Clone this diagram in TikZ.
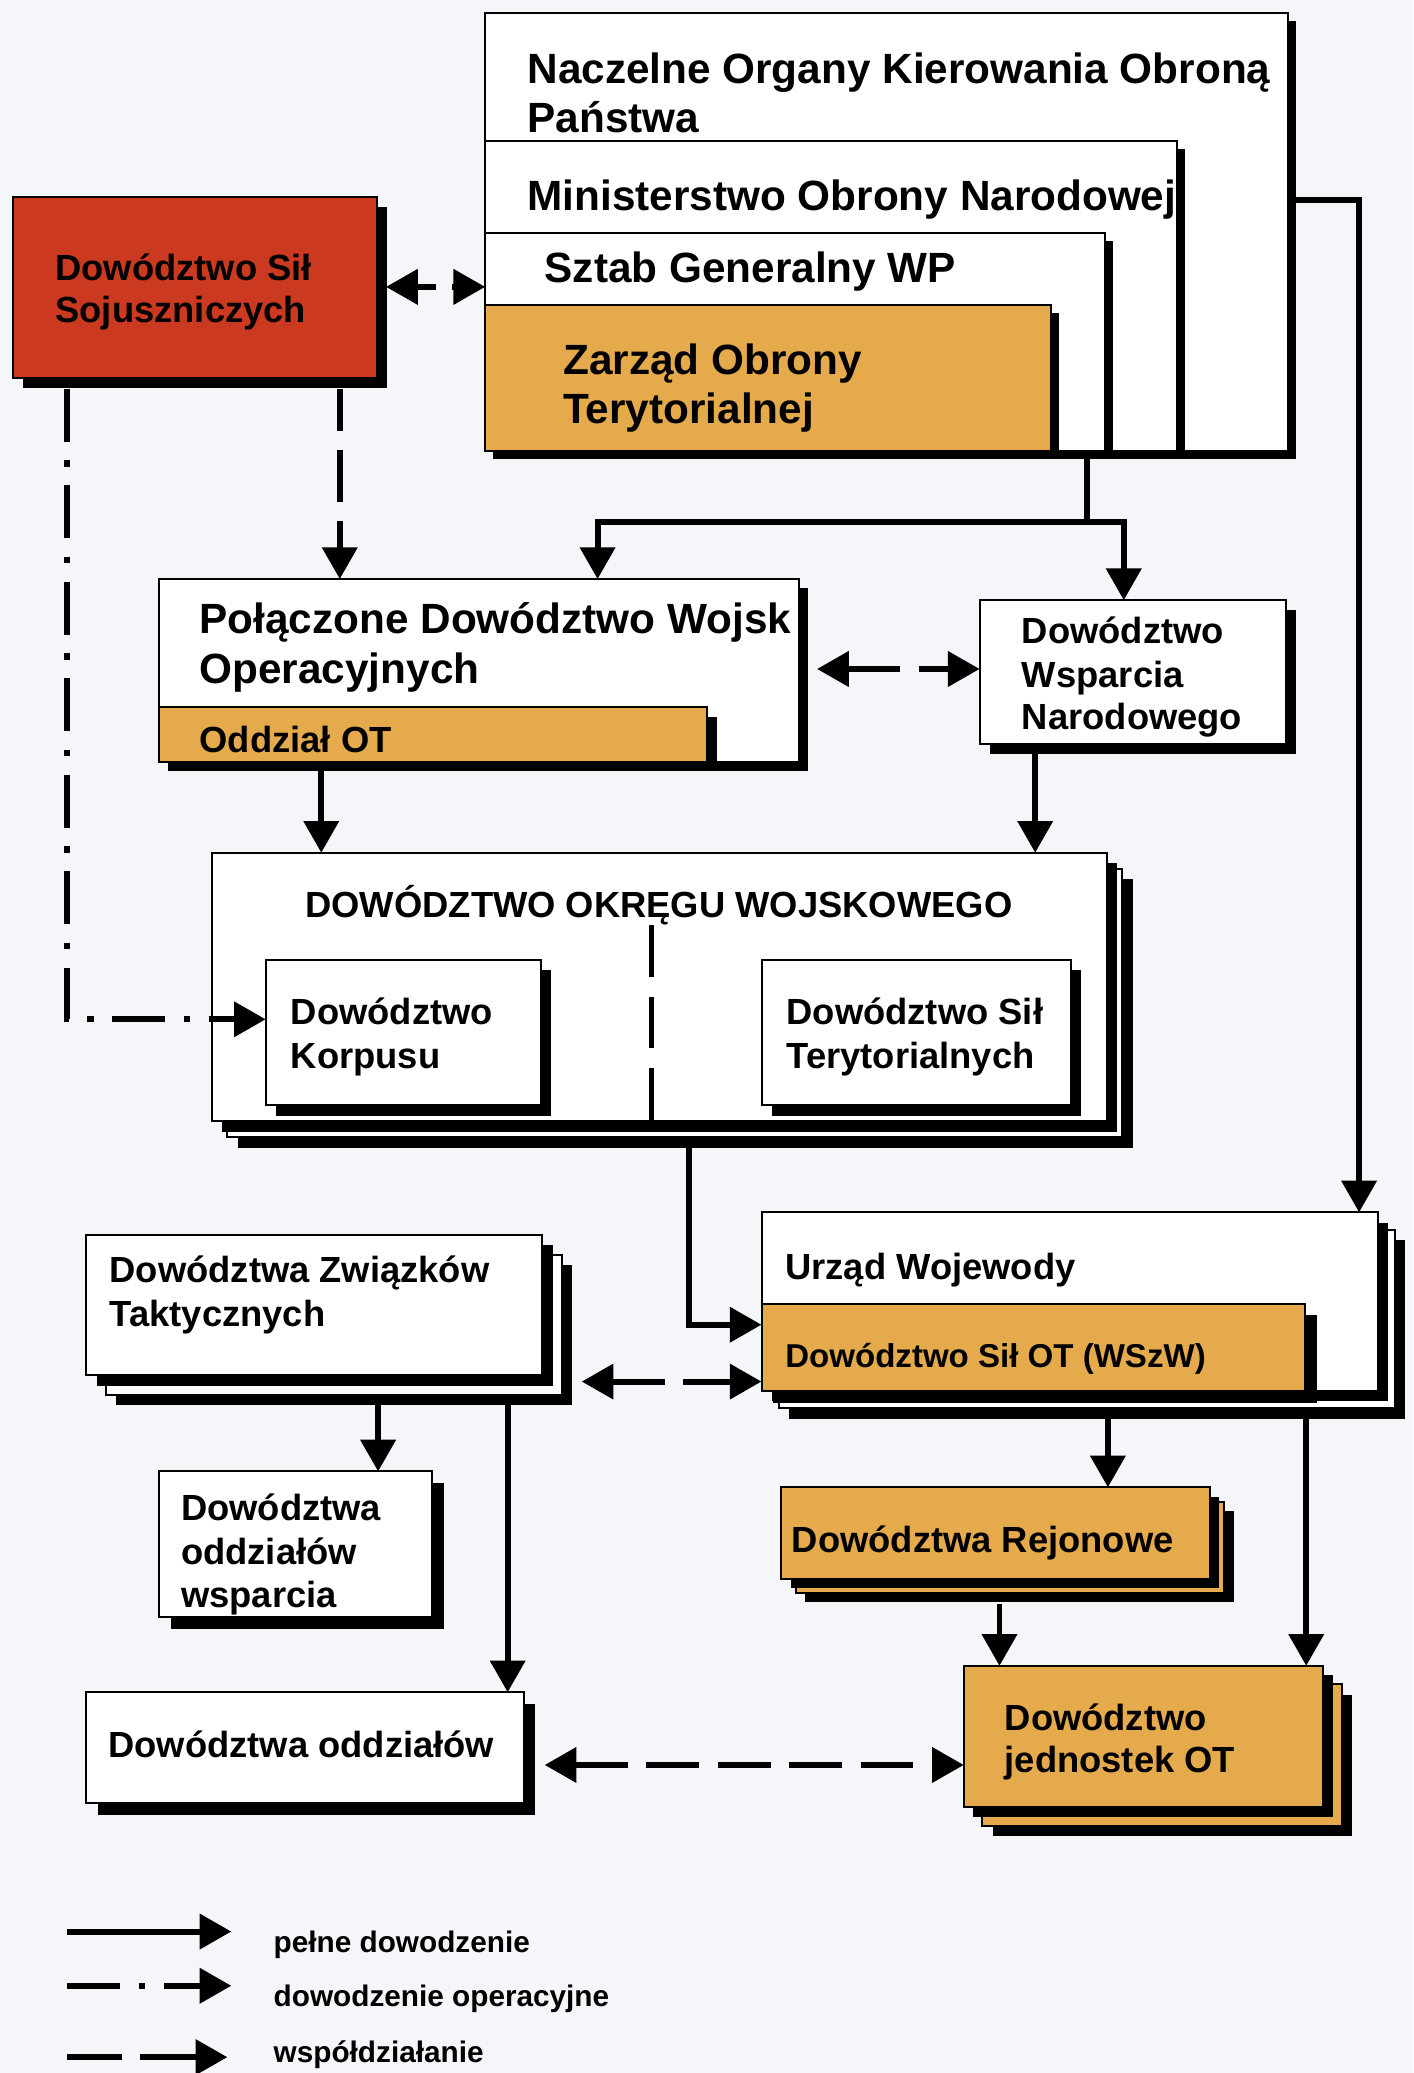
\documentclass[tikz,border=0pt]{standalone}
\usepackage{fontspec}
\setmainfont{Liberation Sans}
\usetikzlibrary{arrows.meta,calc}
\definecolor{bgc}{RGB}{244,246,249}
\definecolor{redc}{RGB}{203,57,32}
\definecolor{orc}{RGB}{229,170,75}
\tikzset{
  card/.style={draw=black, line width=1.5pt, inner sep=0pt, outer sep=0pt, anchor=north west},
  shad/.style={preaction={fill=black, draw=none, transform canvas={shift={(#1pt,-#1pt)}}}},
  backcard/.style n args={3}{
    preaction={fill=black, draw=none, transform canvas={shift={(#1pt+#2pt,-#1pt-#2pt)}}},
    preaction={fill=#3, draw=black, line width=1.5pt, transform canvas={shift={(#1pt,-#1pt)}}}},
  lbl/.style={anchor=base west, inner sep=0pt, outer sep=0pt, font=\bfseries\fontsize{27.5}{33}\selectfont},
  lblbig/.style={lbl, font=\bfseries\fontsize{32}{38}\selectfont},
  lblsm/.style={lbl, font=\bfseries\fontsize{25}{30}\selectfont},
  lblleg/.style={lbl, font=\bfseries\fontsize{22.5}{27}\selectfont},
  solidc/.style={line width=4.5pt, line join=miter},
  opdash/.style={line width=4.5pt, dash pattern=on 40pt off 14pt on 5pt off 14pt},
  coop/.style={line width=4.5pt, dash pattern=on 40pt off 14pt},
  >={Triangle[length=24pt,width=26pt]}
}
\begin{document}
\begin{tikzpicture}[x=1pt,y=-1pt]
\fill[bgc] (0,0) rectangle (1069,1568);
\useasboundingbox (0,0) rectangle (1069,1568);

% ---- top nested group
\node[card, fill=white, shad=6, minimum width=607pt, minimum height=331pt] (NOK) at (367,10) {};
\node[card, fill=white, shad=6, minimum width=523pt, minimum height=234pt] (MON) at (367,107) {};
\node[card, fill=white, shad=6, minimum width=469pt, minimum height=165pt] (SG) at (367,176) {};
\node[card, fill=orc, shad=6, minimum width=428pt, minimum height=110pt] (ZOT) at (367,231) {};

% ---- other boxes
\node[card, fill=redc, shad=7.5, minimum width=275pt, minimum height=137pt] (DSS) at (10,149) {};
\node[card, fill=white, shad=7, minimum width=484pt, minimum height=138pt] (PDWO) at (120,438) {};
\node[card, fill=orc, shad=7, minimum width=415pt, minimum height=41pt] (ODZ) at (120,535) {};
\node[card, fill=white, shad=7.5, minimum width=232pt, minimum height=109pt] (DWN) at (741,454) {};
\node[card, fill=white, backcard={12}{8}{white}, shad=8, minimum width=677pt, minimum height=203pt] (DOW) at (160,645) {};
\node[card, fill=white, shad=8, minimum width=208pt, minimum height=110pt] (KORP) at (201,726) {};
\node[card, fill=white, shad=8, minimum width=234pt, minimum height=110pt] (TER) at (576,726) {};
\node[card, fill=white, backcard={15}{8}{white}, shad=8, minimum width=345pt, minimum height=106pt] (DZT) at (65,934) {};
\node[card, fill=white, backcard={13}{8}{white}, shad=8, minimum width=466pt, minimum height=135pt] (UW) at (576,917) {};
\node[card, fill=orc, shad=9, minimum width=411pt, minimum height=66pt] (WSZW) at (576,986) {};
\node[card, fill=orc, backcard={11}{7}{orc}, shad=7, minimum width=324pt, minimum height=69pt] (DR) at (591,1125) {};
\node[card, fill=orc, backcard={14}{8}{orc}, shad=7, minimum width=272pt, minimum height=107pt] (DJ) at (729,1260) {};
\node[card, fill=white, shad=9, minimum width=207pt, minimum height=110pt] (DOWS) at (120,1113) {};
\node[card, fill=white, shad=9, minimum width=331pt, minimum height=84pt] (DO) at (65,1280) {};

% ---- texts
\node[lblbig] (tNOK1) at (399,63) {Naczelne Organy Kierowania Obroną};
\node[lblbig] (tNOK2) at (399,100) {Państwa};
\node[lblbig] (tMON) at (399,159) {Ministerstwo Obrony Narodowej};
\node[lblbig] (tSG) at (412,214) {Sztab Generalny WP};
\node[lblbig] (tZOT1) at (426,283) {Zarząd Obrony};
\node[lblbig] (tZOT2) at (426,320) {Terytorialnej};
\node[lbl] (tDSS1) at (42,212) {Dowództwo Sił};
\node[lbl] (tDSS2) at (42,244) {Sojuszniczych};
\node[lblbig] (tPDWO1) at (151,479) {Połączone Dowództwo Wojsk};
\node[lblbig] (tPDWO2) at (151,517) {Operacyjnych};
\node[lbl] (tODZ) at (151,569) {Oddział OT};
\node[lbl] (tDWN1) at (773,487) {Dowództwo};
\node[lbl] (tDWN2) at (773,520) {Wsparcia};
\node[lbl] (tDWN3) at (773,552) {Narodowego};
\node[lbl] (tDOW) at (231,694) {DOWÓDZTWO OKRĘGU WOJSKOWEGO};
\node[lbl] (tKORP1) at (220,775) {Dowództwo};
\node[lbl] (tKORP2) at (220,808) {Korpusu};
\node[lbl] (tTER1) at (595,775) {Dowództwo Sił};
\node[lbl] (tTER2) at (595,808) {Terytorialnych};
\node[lbl] (tDZT1) at (83,970) {Dowództwa Związków};
\node[lbl] (tDZT2) at (83,1003) {Taktycznych};
\node[lbl] (tUW) at (594,968) {Urząd Wojewody};
\node[lblsm] (tWSZW) at (594,1034) {Dowództwo Sił OT (WSzW)};
\node[lbl] (tDOWS1) at (137,1150) {Dowództwa};
\node[lbl] (tDOWS2) at (137,1183) {oddziałów};
\node[lbl] (tDOWS3) at (137,1216) {wsparcia};
\node[lbl] (tDR) at (599,1174) {Dowództwa Rejonowe};
\node[lbl] (tDO) at (82,1329) {Dowództwa oddziałów};
\node[lbl] (tDJ1) at (760,1309) {Dowództwo};
\node[lbl] (tDJ2) at (760,1341) {jednostek OT};

% ---- divider inside DOW
\draw[line width=3.5pt, dash pattern=on 39pt off 15pt] ($(DOW.south west)+(333,-148)$) -- ($(DOW.south west)+(333,0)$);

% ---- full command connectors
\coordinate (jM) at ($(NOK.south west)+(455,54)$);
\coordinate (jL) at ($(NOK.south west)+(85,54)$);
\coordinate (jR) at ($(NOK.south west)+(483,54)$);
\draw[solidc] ($(NOK.south west)+(455,0)$) -- (jM);
\draw[solidc,<->] (jL |- PDWO.north) -- (jL) -- (jR) -- (jR |- DWN.north);
\draw[solidc,->] ($(NOK.north east)+(0,141)$) -| ($(UW.north east)+(-14,0)$);
\draw[solidc,->] ($(PDWO.south west)+(123,0)$) -- ($(DOW.north west)+(83,0)$);
\draw[solidc,->] ($(DWN.south west)+(42,0)$) -- ($(DOW.north west)+(623,0)$);
\draw[solidc,->] ($(DOW.south west)+(361,20)$) |- ($(WSZW.north west)+(0,16)$);
\draw[solidc,->] ($(DZT.south west)+(221,23)$) -- ($(DOWS.north west)+(166,0)$);
\draw[solidc,->] ($(DZT.south west)+(319,23)$) -- ($(DO.north west)+(319,0)$);
\draw[solidc,->] ($(UW.south west)+(262,21)$) -- ($(DR.north west)+(247,0)$);
\draw[solidc,->] ($(DR.south west)+(165,19)$) -- ($(DJ.north west)+(27,0)$);
\draw[solidc,->] ($(UW.south west)+(412,21)$) -- ($(DJ.north west)+(259,0)$);

% ---- operational command
\draw[opdash,->] ($(DSS.south west)+(41,8)$) |- ($(KORP.north west)+(0,45)$);
\draw[coop,->,dash phase=8pt] ($(DSS.south west)+(247,8)$) -- ($(PDWO.north west)+(137,0)$);

% ---- cooperation
\draw[coop,<->,dash pattern=on 15pt off 12pt] ($(DSS.north east)+(7,68)$) -- ($(SG.north west)+(0,41)$);
\draw[coop,<->] ($(PDWO.north east)+(14,68)$) -- ($(DWN.north west)+(0,52)$);
\draw[coop,<->] ($(DZT.north east)+(30,111)$) -- ($(WSZW.north west)+(0,59)$);
\draw[coop,<->] ($(DO.north east)+(16,55)$) -- ($(DJ.north west)+(0,75)$);

% ---- legend
\coordinate (L1a) at (51,1461); \coordinate (L1b) at (175,1461);
\coordinate (L2a) at (51,1502); \coordinate (L2b) at (175,1502);
\coordinate (L3a) at (51,1556); \coordinate (L3b) at (172,1556);
\draw[solidc,->] (L1a) -- (L1b);
\draw[opdash,->] (L2a) -- (L2b);
\draw[coop,->,dash pattern=on 41pt off 14pt on 60pt] (L3a) -- (L3b);
\node[lblleg] (leg1) at (207,1477) {pełne dowodzenie};
\node[lblleg] (leg2) at (207,1518) {dowodzenie operacyjne};
\node[lblleg] (leg3) at (207,1560) {współdziałanie};
\end{tikzpicture}
\end{document}
